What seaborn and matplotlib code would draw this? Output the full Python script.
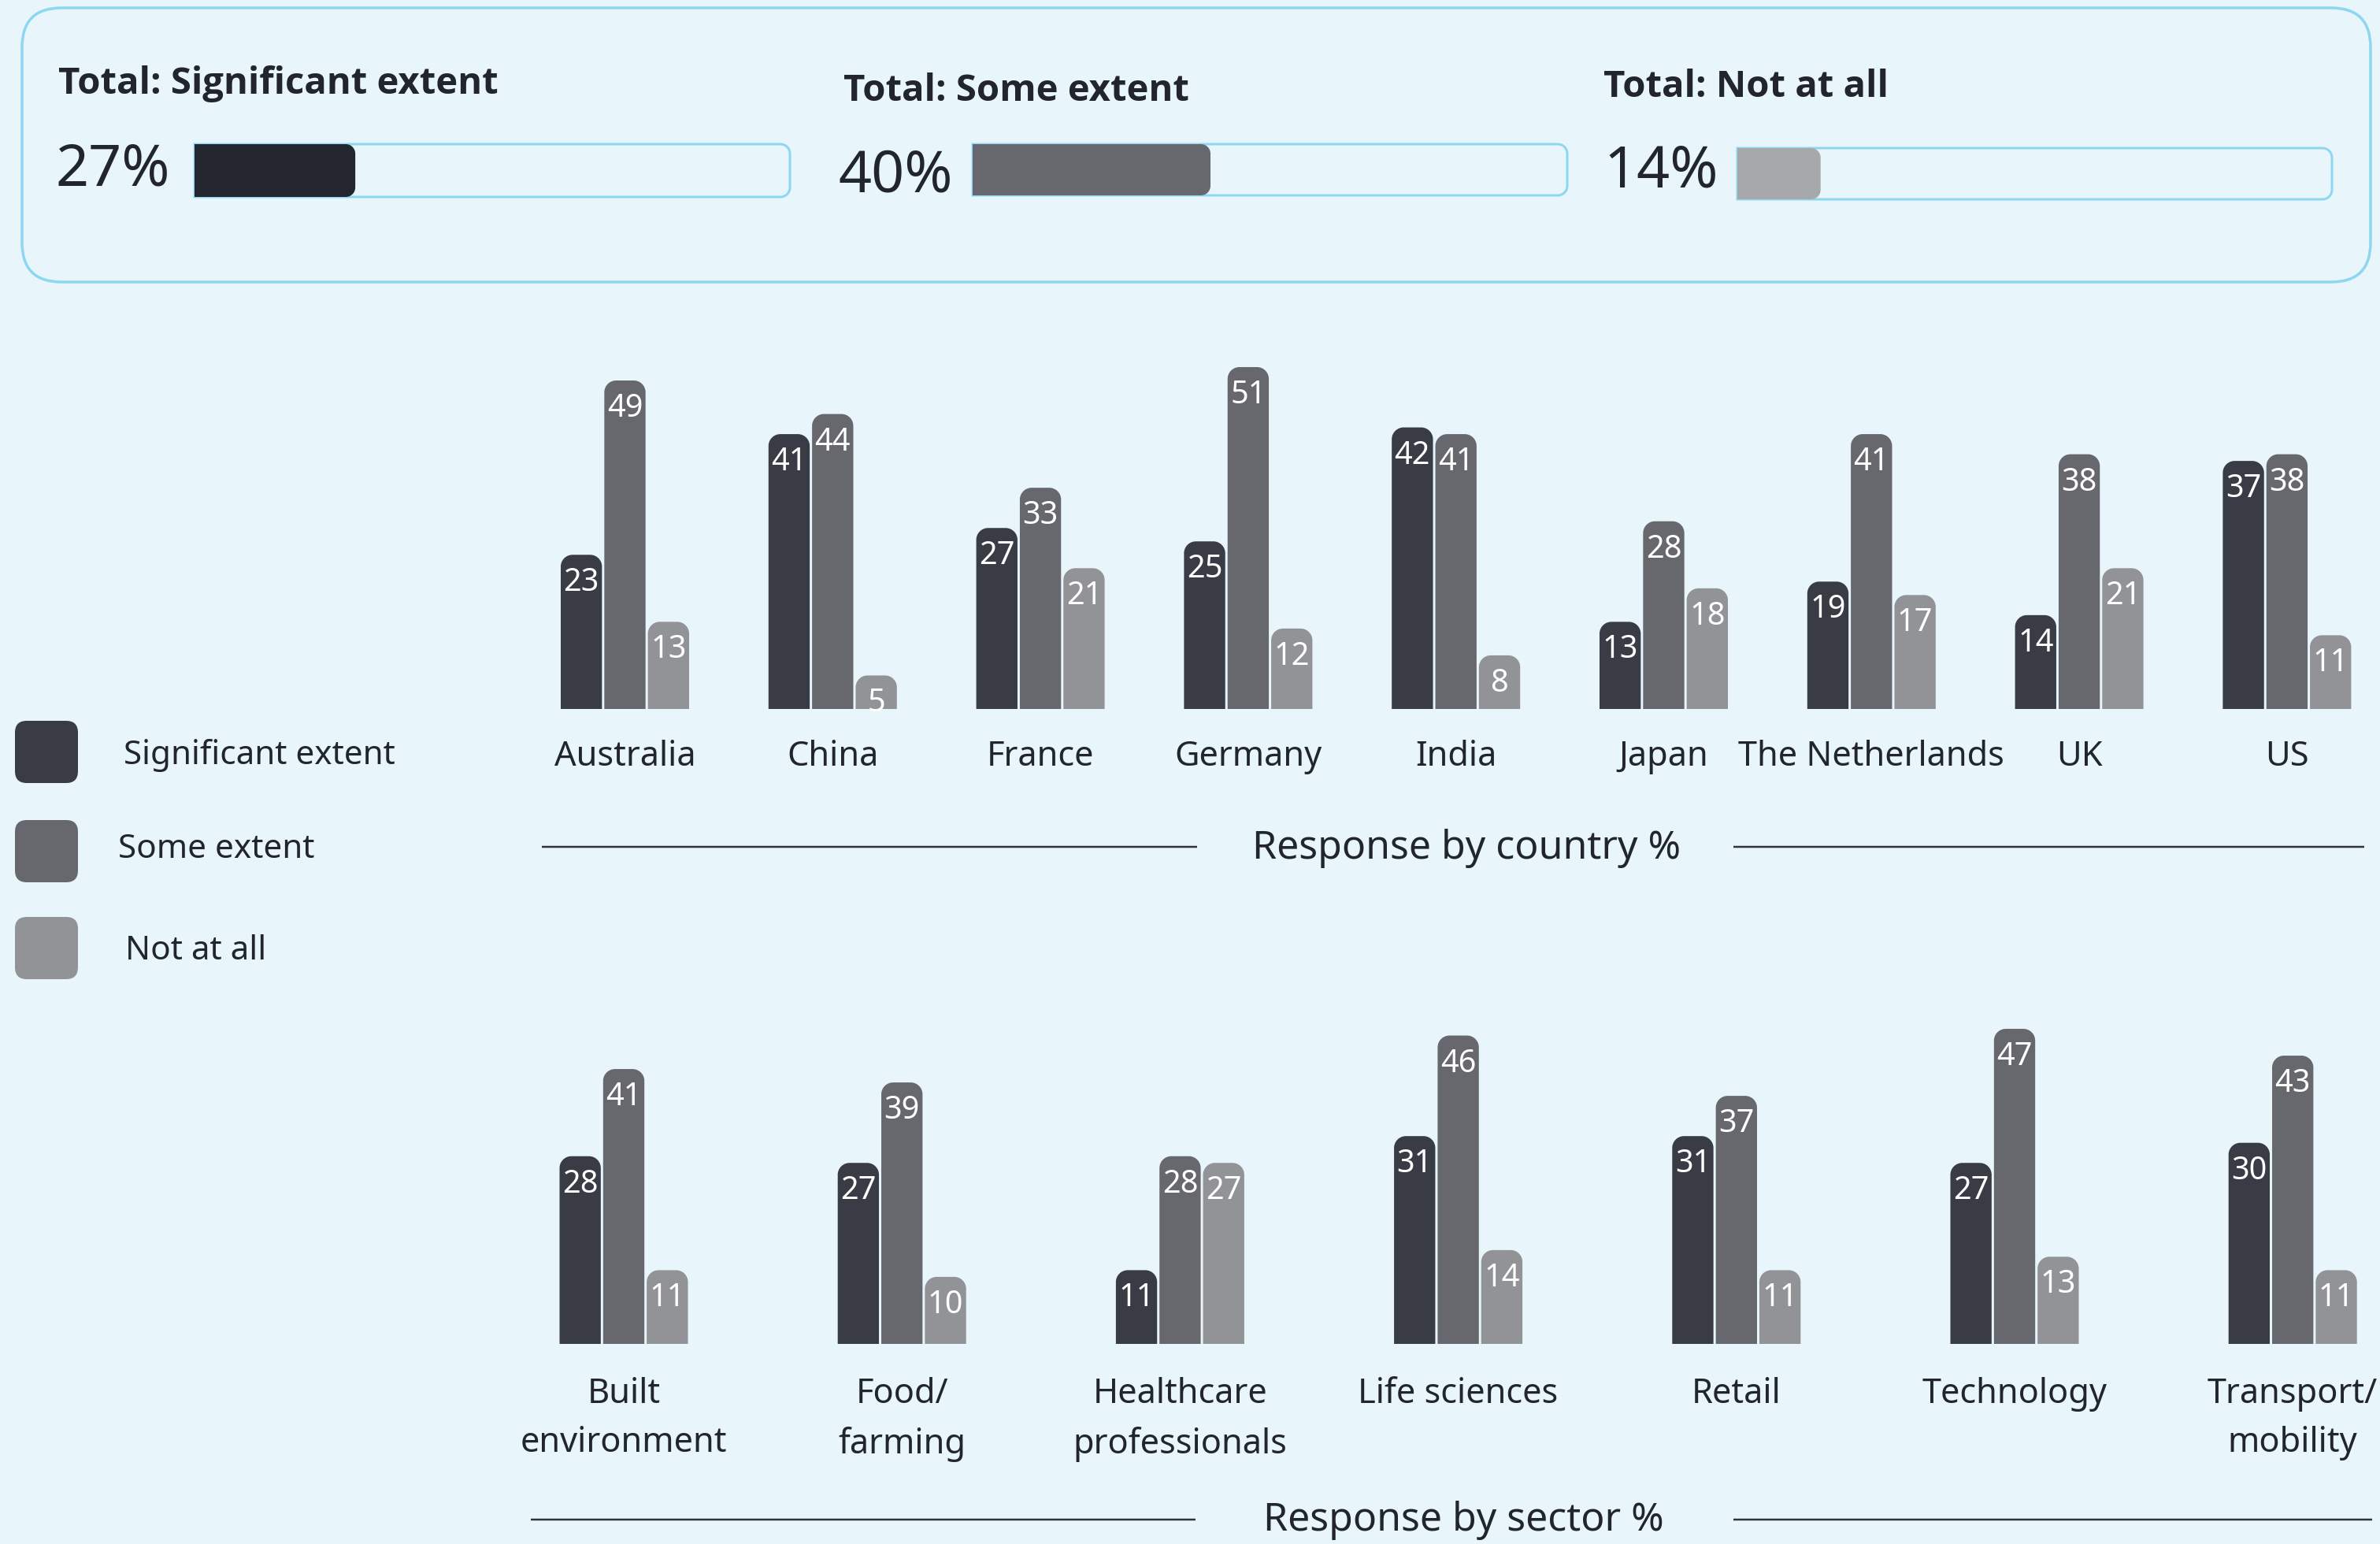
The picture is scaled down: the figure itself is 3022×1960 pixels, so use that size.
import numpy as np
import pandas as pd
import matplotlib
matplotlib.use("Agg")
import matplotlib.pyplot as plt
import seaborn as sns
from matplotlib.path import Path
from matplotlib.patches import PathPatch, FancyBboxPatch
import matplotlib.transforms as mtransforms

# ---------------- data ----------------
levels = ["Significant extent", "Some extent", "Not at all"]
total_titles = ["Total: Significant extent", "Total: Some extent", "Total: Not at all"]
total_values = [27, 40, 14]

countries = ["Australia", "China", "France", "Germany", "India", "Japan",
             "The Netherlands", "UK", "US"]
country_significant = [23, 41, 27, 25, 42, 13, 19, 14, 37]
country_some = [49, 44, 33, 51, 41, 28, 41, 38, 38]
country_not = [13, 5, 21, 12, 8, 18, 17, 21, 11]

sectors = ["Built\nenvironment", "Food/\nfarming", "Healthcare\nprofessionals",
           "Life sciences", "Retail", "Technology", "Transport/\nmobility"]
sector_significant = [28, 27, 11, 31, 31, 27, 30]
sector_some = [41, 39, 28, 46, 37, 47, 43]
sector_not = [11, 10, 27, 14, 11, 13, 11]

country_title = "Response by country %"
sector_title = "Response by sector %"

# ---------------- style ----------------
BAR_COLORS = {"Significant extent": "#393c44", "Some extent": "#67686d", "Not at all": "#929397"}
TOTAL_COLORS = ["#23262e", "#67686d", "#a7a8ac"]
BG = "#e8f6fb"
BORDER = "#8dd7f1"
TEXT = "#22252d"
LINE = "#30333a"

sns.set_theme(style="white")
plt.rcParams["font.family"] = ["Noto Sans", "DejaVu Sans"]

W, H, DPI = 3022, 1960, 200
PT = 72.0 / DPI  # points per pixel

fig = plt.figure(figsize=(W / DPI, H / DPI), dpi=DPI, facecolor=BG)


def px_axes(x0, y0, x1, y1):
    ax = fig.add_axes([x0 / W, 1 - y1 / H, (x1 - x0) / W, (y1 - y0) / H])
    ax.set_facecolor("none")
    return ax


K = 0.5523


def rrect(x0, y0, x1, y1, rx, ry, tl=False, tr=False, br=False, bl=False):
    v, c = [], []
    if bl:
        v.append((x0, y0 + ry))
    else:
        v.append((x0, y0))
    c.append(Path.MOVETO)
    if tl:
        v += [(x0, y1 - ry), (x0, y1 - ry + K * ry), (x0 + rx - K * rx, y1), (x0 + rx, y1)]
        c += [Path.LINETO, Path.CURVE4, Path.CURVE4, Path.CURVE4]
    else:
        v.append((x0, y1)); c.append(Path.LINETO)
    if tr:
        v += [(x1 - rx, y1), (x1 - rx + K * rx, y1), (x1, y1 - ry + K * ry), (x1, y1 - ry)]
        c += [Path.LINETO, Path.CURVE4, Path.CURVE4, Path.CURVE4]
    else:
        v.append((x1, y1)); c.append(Path.LINETO)
    if br:
        v += [(x1, y0 + ry), (x1, y0 + ry - K * ry), (x1 - rx + K * rx, y0), (x1 - rx, y0)]
        c += [Path.LINETO, Path.CURVE4, Path.CURVE4, Path.CURVE4]
    else:
        v.append((x1, y0)); c.append(Path.LINETO)
    if bl:
        v += [(x0 + rx, y0), (x0 + rx - K * rx, y0), (x0, y0 + ry - K * ry), (x0, y0 + ry)]
        c += [Path.LINETO, Path.CURVE4, Path.CURVE4, Path.CURVE4]
    else:
        v.append((x0, y0)); c.append(Path.LINETO)
    v.append((x0, y0)); c.append(Path.CLOSEPOLY)
    return Path(v, c)


# ---------------- background / decoration layer (pixel coords) ----------------
bg = fig.add_axes([0, 0, 1, 1])
bg.set_xlim(0, W)
bg.set_ylim(H, 0)
bg.axis("off")
bg.set_facecolor("none")

bg.add_patch(FancyBboxPatch((28, 10), 2982, 348, boxstyle="round,pad=0,rounding_size=50",
                            fc="none", ec=BORDER, lw=3.5 * PT))

title_pos = [(74, 119), (1071, 128), (2036, 123)]
pct_pos = [(70, 235), (1065, 243), (2036, 238)]
track_box = [(247, 183, 1003, 250), (1235, 183, 1990, 248), (2206, 188, 2961, 253)]

for k in range(3):
    bg.text(*title_pos[k], total_titles[k], fontsize=17, fontweight="bold",
            family=["Open Sans", "Noto Sans", "DejaVu Sans"],
            color=TEXT, ha="left", va="baseline")
    bg.text(*pct_pos[k], f"{total_values[k]}%", fontsize=26.5, color=TEXT,
            ha="left", va="baseline")
    x0, y0, x1, y1 = track_box[k]
    axk = px_axes(x0, y0, x1, y1)
    sns.barplot(x=[total_values[k]], y=[levels[k]], orient="h", color=TOTAL_COLORS[k],
                saturation=1, width=1, linewidth=0, ax=axk)
    axk.set_xlim(0, 100)
    axk.set_ylim(0.5, -0.5)
    axk.axis("off")
    pxu = (x1 - x0) / 100.0
    pyu = (y1 - y0) / 1.0
    bars = [r for cont in axk.containers for r in cont]
    axk.add_patch(PathPatch(rrect(0, -0.5, 100, 0.5, 12 / pxu, 12 / pyu, tr=True, br=True),
                            fc="none", ec=BORDER, lw=3 * PT, clip_on=False, zorder=1))
    for r in bars:
        rx0, ry0, rw, rh = r.get_x(), r.get_y(), r.get_width(), r.get_height()
        r.set_visible(False)
        axk.add_patch(PathPatch(rrect(rx0, ry0, rx0 + rw, ry0 + rh, 12 / pxu, 12 / pyu,
                                      tr=True, br=True),
                                fc=TOTAL_COLORS[k], lw=0, clip_on=False, zorder=2))

# legend
leg_boxes = [(19, 915), (19, 1041), (19, 1164)]
leg_text = [(157, 970), (150, 1089), (159, 1218)]
for lvl, (lx, ly), (tx, ty) in zip(levels, leg_boxes, leg_text):
    bg.add_patch(FancyBboxPatch((lx, ly), 80, 79, boxstyle="round,pad=0,rounding_size=15",
                                fc=BAR_COLORS[lvl], ec="none"))
    bg.text(tx, ty, lvl, fontsize=15.2, color=TEXT, ha="left", va="baseline")

# section titles & rules
bg.plot([688, 1520], [1075, 1075], color=LINE, lw=2.5 * PT, solid_capstyle="butt")
bg.plot([2201, 3002], [1075, 1075], color=LINE, lw=2.5 * PT, solid_capstyle="butt")
bg.text(1862, 1090, country_title, fontsize=18, color=TEXT, ha="center", va="baseline")
bg.plot([674, 1518], [1929, 1929], color=LINE, lw=2.5 * PT, solid_capstyle="butt")
bg.plot([2201, 3012], [1929, 1929], color=LINE, lw=2.5 * PT, solid_capstyle="butt")
bg.text(1858, 1943, sector_title, fontsize=18, color=TEXT, ha="center", va="baseline")


# ---------------- grouped bar panels ----------------
def long_df(cats, a, b, c):
    df = pd.DataFrame({"category": cats, levels[0]: a, levels[1]: b, levels[2]: c})
    return df.melt(id_vars="category", var_name="response", value_name="value")


PX_PER_UNIT = 8.51


def panel(cats, a, b, c, top_px, base_px, center0, spacing, label_mode):
    ax = px_axes(0, top_px, W, base_px)
    df = long_df(cats, a, b, c)
    group_w = 166.0 / spacing
    sns.barplot(data=df, x="category", y="value", hue="response", order=cats,
                hue_order=levels, palette=BAR_COLORS, saturation=1, width=group_w,
                gap=0.054, linewidth=0, legend=False, ax=ax)
    ax.set_xlim(-center0 / spacing, (W - center0) / spacing)
    ax.set_ylim(0, (base_px - top_px) / PX_PER_UNIT)
    rx = 15.0 / spacing
    ry = 15.0 / PX_PER_UNIT
    for cont in ax.containers:
        for r in cont:
            x, w, h = r.get_x(), r.get_width(), r.get_height()
            fc = r.get_facecolor()
            r.set_visible(False)
            ax.add_patch(PathPatch(rrect(x, 0, x + w, h, rx, ry, tl=True, tr=True),
                                   fc=fc, lw=0, zorder=2))
            ax.annotate(f"{int(round(h))}", xy=(x + w / 2, h), xytext=(0, -46 * PT),
                        textcoords="offset points", ha="center", va="baseline",
                        color="white", fontsize=14.3, zorder=3)
    ticks = ax.get_xticks()
    ax.set_xticks([])
    ax.set_yticks([])
    for s in ax.spines.values():
        s.set_visible(False)
    ax.set_xlabel("")
    ax.set_ylabel("")
    for xt, lab in zip(ticks, cats):
        if label_mode == "baseline":
            off = mtransforms.ScaledTranslation(0, -72 / DPI, fig.dpi_scale_trans)
            va = "baseline"
        else:
            off = mtransforms.ScaledTranslation(0, -42 / DPI, fig.dpi_scale_trans)
            va = "top"
        tr = mtransforms.blended_transform_factory(ax.transData, ax.transAxes) + off
        ax.text(xt, 0, lab, transform=tr, ha="center", va=va, multialignment="center",
                fontsize=15.6, color=TEXT, linespacing=1.55, clip_on=False)
    return ax


panel(countries, country_significant, country_some, country_not,
      380, 900, 793.5, 263.8, "baseline")
panel(sectors, sector_significant, sector_some, sector_not,
      1250, 1706, 792.0, 353.2, "top")

fig.savefig("out.png", dpi=DPI, facecolor=BG)
